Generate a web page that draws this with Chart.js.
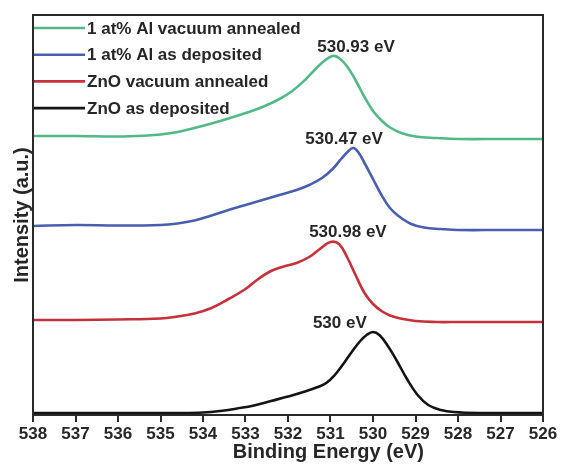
<!DOCTYPE html>
<html>
<head>
<meta charset="utf-8">
<script src="https://cdn.jsdelivr.net/npm/chart.js@4/dist/chart.umd.min.js"></script>
<style>
  html, body { margin: 0; padding: 0; background: #fff; }
  #wrap { width: 562px; height: 471px; position: relative; }
</style>
</head>
<body>
<div id="wrap"><canvas id="c" width="562" height="471"></canvas></div>
<script>
// ---- Data (binding energy in eV, intensity in arbitrary units, stacked offsets as in the figure) ----
const xTicks = [538, 537, 536, 535, 534, 533, 532, 531, 530, 529, 528, 527, 526];

const seriesLabels = ['1 at% Al vacuum annealed', '1 at% Al as deposited', 'ZnO vacuum annealed', 'ZnO as deposited'];

const alAnnealedE = [538, 537, 536, 535.3, 535, 534.6, 534.2, 533.8, 533.4, 533, 532.6, 532.2, 531.9, 531.6, 531.35, 531.15, 530.95, 530.8, 530.6, 530.4, 530.2, 530.0, 529.8, 529.6, 529.3, 529.0, 528.5, 528, 527, 526];
const alAnnealedI = [279, 279, 278.5, 279.5, 280.5, 283, 287, 291.5, 296.5, 302, 308, 316, 324, 335, 346, 354, 359, 357, 348, 334, 318, 304, 294.5, 287.5, 281.5, 278.5, 277, 276, 276, 276];

const alDepE = [538, 537, 536, 535, 534.6, 534.2, 533.8, 533.4, 533, 532.6, 532.2, 531.8, 531.5, 531.2, 530.95, 530.75, 530.6, 530.47, 530.35, 530.2, 530.0, 529.8, 529.6, 529.4, 529.1, 528.8, 528.4, 528, 527, 526];
const alDepI = [189, 190, 189.5, 190, 191.5, 194.5, 199.5, 205, 210, 215, 220, 225, 230, 237, 246, 256, 263, 267, 263, 252, 236, 220, 207, 199, 191, 187.5, 186, 185, 185, 185];

const znoAnnealedE = [538, 537, 536, 535, 534.6, 534.2, 533.8, 533.4, 533.0, 532.7, 532.4, 532.1, 531.8, 531.5, 531.25, 531.0, 530.8, 530.6, 530.4, 530.2, 530.0, 529.8, 529.6, 529.4, 529.0, 528.5, 528, 527, 526];
const znoAnnealedI = [95, 95, 95.5, 96.5, 98.5, 101.5, 107, 116, 126, 136, 144, 148.5, 152, 158, 166, 173, 171, 157, 139, 122, 111, 104, 99.5, 97, 94, 93, 93, 93, 93];

const znoDepE = [538, 536, 534.5, 534, 533.6, 533.2, 532.8, 532.4, 532, 531.6, 531.3, 531.1, 530.9, 530.7, 530.5, 530.3, 530.15, 530.0, 529.85, 529.65, 529.45, 529.2, 528.95, 528.7, 528.4, 528.1, 527.5, 526];
const znoDepI = [2, 2, 2, 2.5, 4, 6.5, 9.5, 14, 18.5, 23.5, 28, 32, 40, 51, 63, 74, 80, 83, 80, 69, 55, 36, 20, 10, 5, 3, 2, 2];

const peakTexts = ['530.93 eV', '530.47 eV', '530.98 eV', '530 eV'];
const peakI = [359, 267, 174, 83];
const peakTextE = [530.40, 530.68, 530.59, 530.78];

// ---- Styles ----
const colors = ['#52b986', '#4a5eb0', '#c5313a', '#141414'];
const textColor = '#262626';
const FONT = '"Liberation Sans", Arial, Helvetica, sans-serif';

function toPts(xs, ys) { return xs.map((x, i) => ({ x: x, y: ys[i] })); }

const dataArrays = [
  [alAnnealedE, alAnnealedI],
  [alDepE, alDepI],
  [znoAnnealedE, znoAnnealedI],
  [znoDepE, znoDepI]
];

const datasets = dataArrays.map((d, i) => ({
  label: seriesLabels[i],
  data: toPts(d[0], d[1]),
  borderColor: colors[i],
  backgroundColor: colors[i],
  borderWidth: 2.6,
  pointRadius: 0,
  tension: 0.4,
  fill: false
}));

const decor = {
  id: 'decor',
  afterDatasetsDraw(chart) {
    const ctx = chart.ctx;
    const a = chart.chartArea;
    const xs = chart.scales.x, ys = chart.scales.y;
    ctx.save();
    // frame
    ctx.strokeStyle = '#2a2a2a';
    ctx.lineWidth = 2;
    ctx.strokeRect(a.left, a.top, a.right - a.left, a.bottom - a.top);

    // legend (inside plot, top-left)
    ctx.font = 'bold 17px ' + FONT;
    ctx.textBaseline = 'middle';
    ctx.textAlign = 'left';
    chart.data.datasets.forEach((ds, i) => {
      const y = a.top + 13 + i * 26.7;
      ctx.strokeStyle = ds.borderColor;
      ctx.lineWidth = 2.6;
      ctx.beginPath();
      ctx.moveTo(a.left + 1, y);
      ctx.lineTo(a.left + 52, y);
      ctx.stroke();
      ctx.fillStyle = textColor;
      ctx.fillText(ds.label, a.left + 54, y + 1);
    });

    // peak annotations
    ctx.font = 'bold 17px ' + FONT;
    ctx.textAlign = 'center';
    ctx.textBaseline = 'middle';
    ctx.fillStyle = textColor;
    peakTexts.forEach((t, i) => {
      const px = xs.getPixelForValue(peakTextE[i]);
      const py = ys.getPixelForValue(peakI[i]) - 9;
      ctx.fillText(t, px, py);
    });

    // axis titles
    ctx.font = 'bold 20px ' + FONT;
    ctx.textAlign = 'center';
    ctx.textBaseline = 'middle';
    ctx.fillText('Binding Energy (eV)', xs.getPixelForValue(531.05), 452);
    ctx.save();
    ctx.translate(22, (a.top + a.bottom) / 2);
    ctx.rotate(-Math.PI / 2);
    ctx.fillText('Intensity (a.u.)', 0, 0);
    ctx.restore();
    ctx.restore();
  }
};

new Chart(document.getElementById('c'), {
  type: 'line',
  data: { datasets: datasets },
  options: {
    responsive: false,
    animation: false,
    events: [],
    layout: { padding: { top: 15, right: 19, left: 0, bottom: 0 } },
    plugins: { legend: { display: false }, tooltip: { enabled: false }, title: { display: false } },
    scales: {
      x: {
        type: 'linear',
        reverse: true,
        min: 526,
        max: 538,
        afterBuildTicks: (s) => { s.ticks = xTicks.map(v => ({ value: v })); },
        afterFit: (s) => { s.height = 56; },
        ticks: {
          color: textColor,
          font: { family: FONT, size: 17, weight: 'bold' },
          padding: 2,
          maxRotation: 0,
          autoSkip: false,
          callback: (v) => String(v)
        },
        grid: { display: true, drawOnChartArea: false, drawTicks: true, tickLength: 7, color: '#2a2a2a', lineWidth: 2 },
        border: { display: true, color: '#2a2a2a', width: 2 },
        title: { display: false }
      },
      y: {
        type: 'linear',
        min: 0,
        max: 400,
        afterFit: (s) => { s.width = 33; },
        ticks: { display: false },
        grid: { display: false },
        border: { display: true, color: '#2a2a2a', width: 2 },
        title: { display: false }
      }
    }
  },
  plugins: [decor]
});
</script>
</body>
</html>
